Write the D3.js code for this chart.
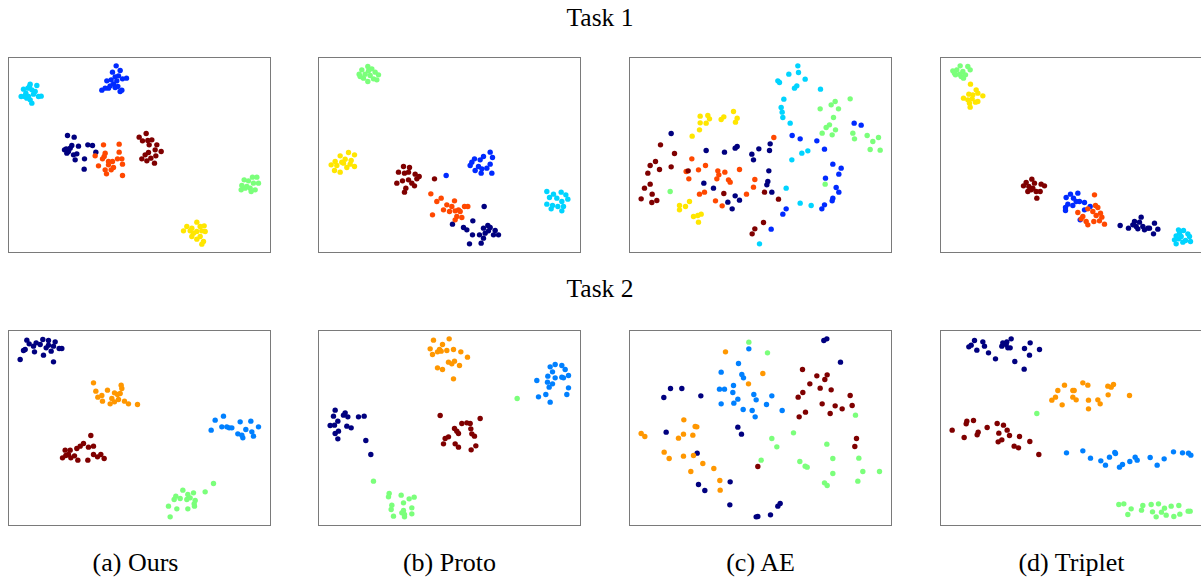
<!DOCTYPE html>
<html>
<head>
<meta charset="utf-8">
<script src="https://cdn.jsdelivr.net/npm/d3@7"></script>
<style>
  body { margin: 0; background: #fff; }
  text { font-family: "Liberation Serif", "Times New Roman", serif; }
</style>
</head>
<body>
<svg id="chart" width="1201" height="578"></svg>
<script>
// Colours of the classes (jet colormap)
const task1Colors = ["#00007f", "#002aff", "#00d4ff", "#7bff7b", "#ffe600", "#ff4800", "#7f0000"];
const task2Colors = ["#00007f", "#0080ff", "#7bff7b", "#ff9700", "#7f0000"];

const rowTitles = ["Task 1", "Task 2"];
const captions = ["(a) Ours", "(b) Proto", "(c) AE", "(d) Triplet"];

// Embedding coordinates, one list per class (navy, blue, cyan, green, yellow, orange, dark red)
const oursTask1 = [
  [[187,242],[207,247],[248,270],[262,272],[200,272],[183,282],[220,274],[178,285],[190,290],[185,295],[205,300],[215,297],[210,315],[238,312],[237,343],[272,292],[195,280]],
  [[333,33],[345,47],[322,52],[340,63],[330,66],[318,75],[305,78],[352,72],[364,70],[335,78],[325,87],[315,93],[300,100],[290,106],[310,100],[330,98],[345,110],[350,106],[338,95]],
  [[75,88],[95,92],[55,103],[68,100],[80,105],[62,115],[48,125],[70,125],[85,118],[100,125],[108,124],[75,135],[80,145],[65,130],[90,110],[58,125],[73,95]],
  [[742,367],[755,367],[717,375],[730,378],[745,385],[760,385],[710,392],[725,395],[735,400],[750,405],[708,405],[738,410],[720,400]],
  [[575,502],[545,515],[560,520],[585,515],[597,513],[535,528],[555,528],[575,530],[590,528],[600,530],[560,545],[575,553],[585,545],[595,560],[590,568],[565,535]],
  [[295,270],[342,268],[270,303],[300,295],[297,305],[292,312],[310,320],[322,320],[342,292],[337,312],[350,312],[352,328],[280,333],[300,345],[318,345],[325,338],[304,357],[352,362],[310,330]],
  [[402,247],[423,236],[412,258],[428,257],[440,255],[432,270],[455,270],[450,285],[468,290],[430,293],[452,303],[410,312],[425,318],[448,325],[420,300],[437,310]]
];
const protoTask1 = [
  [[507,455],[473,498],[412,508],[445,518],[518,512],[505,520],[525,518],[540,527],[455,525],[472,540],[493,540],[510,535],[535,540],[550,540],[505,550],[498,565],[463,567],[520,528]],
  [[525,292],[505,305],[532,308],[478,312],[495,315],[470,322],[465,332],[490,335],[525,328],[515,340],[500,342],[480,347],[530,355],[498,355],[393,362]],
  [[695,410],[738,412],[715,418],[752,420],[703,428],[725,430],[758,433],[740,440],[695,448],[712,452],[728,455],[745,455],[708,462],[740,468]],
  [[158,35],[140,45],[170,42],[180,52],[132,58],[150,58],[190,60],[165,62],[145,70],[175,72],[185,75],[158,80],[135,65],[160,48]],
  [[100,293],[75,303],[118,300],[90,313],[108,317],[60,320],[80,322],[48,330],[65,332],[95,338],[118,335],[58,347],[75,352],[85,325],[105,328]],
  [[347,417],[378,430],[365,440],[418,438],[395,450],[410,455],[448,455],[458,455],[385,465],[420,468],[435,470],[403,470],[352,480],[425,485],[440,488],[420,495],[430,465]],
  [[265,335],[283,338],[250,352],[268,355],[280,352],[300,358],[312,365],[305,372],[262,378],[245,385],[290,385],[298,393],[272,400],[268,412],[280,375],[358,372]]
];
const aeTask1 = [
  [[135,236],[240,287],[295,292],[327,280],[333,275],[377,298],[398,282],[432,267],[430,287],[382,315],[428,348],[425,380],[422,390],[437,412],[233,385],[262,400],[327,423],[305,442],[340,436],[318,462]],
  [[684,205],[705,211],[498,242],[522,252],[572,258],[595,283],[620,328],[645,340],[638,358],[598,370],[630,398],[638,412],[620,430],[618,438],[595,450],[587,462],[480,462],[470,478],[435,523]],
  [[515,33],[488,58],[517,53],[537,73],[455,78],[460,83],[512,93],[505,100],[583,103],[473,133],[465,158],[468,172],[470,188],[492,205],[527,295],[545,288],[497,315],[480,400],[522,445],[555,452],[400,567]],
  [[672,132],[627,140],[615,150],[637,162],[582,162],[622,188],[610,210],[600,218],[628,225],[588,235],[618,240],[680,235],[723,242],[757,248],[740,260],[685,252],[732,284],[762,286],[597,388],[132,410]],
  [[322,170],[245,182],[222,184],[293,186],[333,190],[250,192],[285,194],[222,204],[240,205],[328,202],[220,225],[198,244],[190,440],[160,452],[178,455],[160,465],[225,478],[215,482],[202,485],[217,502]],
  [[443,248],[197,312],[238,332],[217,345],[180,350],[188,372],[275,348],[278,360],[272,372],[296,352],[340,344],[307,375],[312,382],[386,374],[382,397],[361,418],[235,412],[220,418],[268,438],[288,453]],
  [[103,270],[145,296],[88,320],[72,332],[100,344],[135,336],[65,355],[186,348],[72,388],[55,400],[78,418],[45,432],[77,443],[92,437],[293,416],[415,412],[457,433],[412,503],[386,522],[378,537]]
];
const tripletTask1 = [
  [[615,487],[595,500],[610,502],[655,505],[552,512],[577,520],[600,515],[620,515],[635,520],[665,523],[625,525],[640,520],[590,510],[652,537],[605,522]],
  [[403,418],[425,415],[390,428],[412,430],[430,440],[445,443],[395,448],[410,452],[388,458],[462,455],[445,465],[388,467],[432,495],[420,440]],
  [[727,525],[742,527],[755,537],[720,543],[735,545],[760,545],[715,555],[748,557],[728,552],[740,562],[720,567],[763,560],[730,535]],
  [[72,33],[95,35],[50,48],[62,45],[80,50],[102,45],[58,60],[75,65],[88,60],[70,58],[55,55],[82,70]],
  [[103,88],[120,105],[98,118],[110,120],[125,115],[140,123],[82,130],[95,135],[108,132],[118,142],[125,140],[102,157],[100,145]],
  [[475,420],[478,452],[485,458],[455,462],[470,470],[425,473],[493,475],[440,485],[480,482],[497,487],[435,492],[450,500],[473,500],[505,508],[455,510],[490,498]],
  [[287,373],[270,383],[295,385],[315,388],[262,393],[278,395],[325,393],[290,400],[275,410],[300,410],[312,410],[285,405],[302,430]]
];

// Task 2 classes: navy, light blue, green, orange, dark red
const oursTask2 = [
  [[65,37],[113,35],[130,38],[150,42],[72,48],[93,45],[105,50],[85,55],[130,52],[145,55],[162,62],[170,62],[60,65],[55,68],[88,72],[138,70],[115,82],[45,95],[145,102],[123,60]],
  [[655,265],[630,277],[737,280],[705,282],[650,297],[665,297],[672,300],[760,297],[618,307],[722,305],[740,312],[698,318],[710,322],[745,325],[713,330],[680,300]],
  [[625,467],[600,492],[533,487],[565,495],[512,505],[548,500],[525,512],[545,515],[507,515],[570,518],[567,528],[490,535],[568,535],[515,543],[548,543],[495,567],[555,510]],
  [[265,165],[348,172],[350,182],[272,190],[307,187],[328,195],[345,197],[290,203],[337,200],[278,208],[320,212],[340,215],[292,220],[358,220],[315,228],[370,228],[397,230],[328,222]],
  [[257,323],[235,347],[225,355],[180,367],[265,355],[250,358],[215,362],[195,367],[190,380],[265,380],[287,380],[172,390],[197,390],[208,384],[218,397],[248,397],[277,387],[297,392],[182,383]]
];
const protoTask2 = [
  [[60,247],[90,255],[55,265],[98,267],[130,267],[147,265],[68,280],[58,292],[45,293],[95,295],[108,300],[70,310],[60,317],[68,333],[152,338],[167,380],[85,262]],
  [[720,110],[740,113],[705,117],[750,125],[712,132],[698,145],[720,150],[740,148],[760,143],[665,158],[697,163],[712,168],[702,178],[760,180],[670,207],[692,200],[705,223],[755,200],[745,150]],
  [[222,497],[258,502],[282,513],[297,508],[220,507],[265,525],[230,532],[290,540],[228,545],[265,548],[260,555],[268,560],[290,558],[235,565],[268,567],[606,212],[175,460]],
  [[355,37],[402,33],[382,50],[345,63],[373,65],[395,68],[415,65],[437,72],[352,80],[367,72],[378,70],[457,88],[400,103],[418,100],[410,108],[433,113],[367,120],[382,125],[415,153]],
  [[375,263],[495,272],[440,287],[455,285],[465,287],[418,302],[425,310],[467,303],[430,317],[470,318],[478,325],[400,327],[390,332],[385,348],[420,348],[430,358],[482,354],[468,366]]
];
const aeTask2 = [
  [[593,38],[602,33],[643,103],[133,182],[167,182],[113,209],[224,204],[335,298],[346,319],[120,313],[213,376],[217,470],[236,488],[312,462],[311,531],[390,567],[395,566],[433,561],[455,535],[462,527]],
  [[368,63],[337,107],[285,133],[347,140],[352,150],[322,173],[280,184],[295,184],[320,194],[383,200],[437,204],[390,216],[335,214],[285,228],[323,226],[421,230],[351,245],[378,248],[387,267],[468,248]],
  [[368,43],[424,75],[688,262],[502,315],[437,332],[452,357],[602,349],[405,397],[698,391],[620,392],[521,401],[537,415],[543,418],[620,437],[710,431],[760,431],[695,460],[595,465],[603,473]],
  [[298,72],[410,137],[367,168],[173,276],[207,296],[212,297],[45,317],[56,326],[172,319],[157,331],[200,322],[114,373],[129,392],[172,385],[202,383],[230,407],[194,431],[263,422],[281,458],[282,487]],
  [[529,125],[572,144],[603,141],[596,155],[551,168],[582,181],[615,186],[530,194],[516,208],[672,203],[588,228],[627,234],[648,243],[678,233],[612,257],[538,253],[519,267],[691,332],[686,356],[395,416]]
];
const tripletTask2 = [
  [[115,38],[140,42],[200,45],[212,42],[225,33],[105,52],[98,57],[145,55],[197,55],[210,50],[222,60],[265,62],[282,45],[310,65],[122,67],[157,75],[280,82],[178,93],[236,101],[264,124],[215,60]],
  [[391,375],[440,369],[463,391],[494,399],[520,388],[536,374],[538,377],[508,412],[550,418],[559,410],[581,401],[597,388],[603,397],[642,389],[663,412],[684,393],[712,372],[739,375],[757,376],[764,382]],
  [[548,530],[563,528],[585,543],[620,533],[645,530],[667,528],[685,541],[705,535],[728,533],[616,547],[649,552],[676,553],[575,560],[660,567],[690,562],[713,566],[731,559],[756,550],[762,550],[302,257]],
  [[440,165],[455,172],[385,172],[365,188],[410,188],[414,188],[515,175],[525,178],[532,170],[358,208],[410,208],[420,216],[457,217],[485,216],[492,228],[347,217],[378,231],[516,201],[580,203],[457,243]],
  [[48,307],[92,280],[112,278],[90,288],[153,299],[183,287],[202,292],[213,307],[126,313],[123,321],[188,316],[220,323],[197,336],[186,342],[250,326],[84,329],[281,341],[234,355],[247,360],[308,380]]
];

const panels = [
  [oursTask1, protoTask1, aeTask1, tripletTask1],
  [oursTask2, protoTask2, aeTask2, tripletTask2]
];
const rowColors = [task1Colors, task2Colors];

// layout
const panelW = 262, panelH = 195;
const panelLeft = [8.5, 318.5, 629.5, 940.5];
const panelTop = [57.5, 330.5];
const xOffset = [10, 10, 10, 13]; // left edge of each panel in data units
const radius = 2.7;

const svg = d3.select('#chart');

rowTitles.forEach((t, r) => {
  svg.append('text')
    .attr('x', 600)
    .attr('y', r === 0 ? 26 : 297)
    .attr('text-anchor', 'middle')
    .style('font-family', '"Liberation Serif", serif')
    .style('font-size', '25.5px')
    .text(t);
});

panels.forEach((row, r) => {
  row.forEach((classes, c) => {
    const xScale = d3.scaleLinear()
      .domain([xOffset[c], xOffset[c] + panelW * 3])
      .range([panelLeft[c], panelLeft[c] + panelW]);
    const yScale = d3.scaleLinear()
      .domain([8, 8 + panelH * 3])
      .range([panelTop[r], panelTop[r] + panelH]);

    const g = svg.append('g');
    g.append('rect')
      .attr('x', panelLeft[c])
      .attr('y', panelTop[r])
      .attr('width', panelW)
      .attr('height', panelH)
      .attr('fill', 'none')
      .attr('stroke', '#7a7a7a')
      .attr('stroke-width', 1);

    classes.forEach((pts, k) => {
      g.selectAll(null)
        .data(pts)
        .enter()
        .append('circle')
        .attr('cx', d => xScale(d[0]))
        .attr('cy', d => yScale(d[1]))
        .attr('r', radius)
        .style('fill', rowColors[r][k]);
    });
  });
});

captions.forEach((t, c) => {
  svg.append('text')
    .attr('x', panelLeft[c] + panelW / 2 - (c === 0 ? 4 : 0))
    .attr('y', 571)
    .attr('text-anchor', 'middle')
    .style('font-family', '"Liberation Serif", serif')
    .style('font-size', '26px')
    .text(t);
});
</script>
</body>
</html>
